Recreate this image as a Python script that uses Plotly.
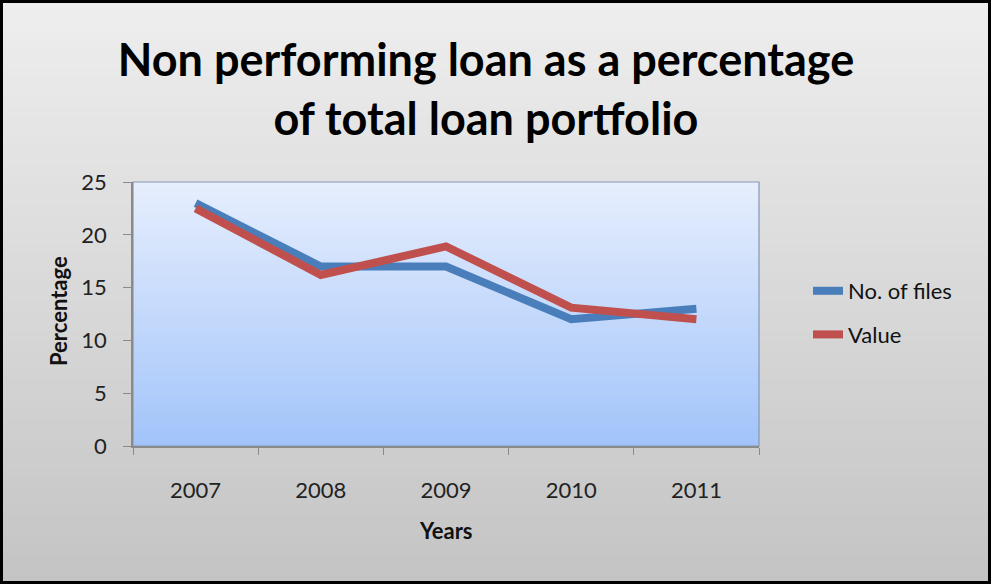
import plotly.graph_objects as go

# Data
years = ["2007", "2008", "2009", "2010", "2011"]
no_of_files = [23, 17, 17, 12, 13]
value = [22.5, 16.2, 18.9, 13.1, 12.0]
series_names = ["No. of files", "Value"]
y_ticks = [0, 5, 10, 15, 20, 25]

W, H = 991, 584
# plot area in pixels
PL, PR, PT, PB = 133, 759, 182, 446

def px_x(x):
    return x / W

def px_y(y):
    return 1 - y / H

def lerp(c1, c2, t):
    return "rgb({},{},{})".format(*[round(a + (b - a) * t) for a, b in zip(c1, c2)])

shapes = []

# chart background: soft gray vertical gradient
n = 60
top_gray, bot_gray = (238, 238, 238), (196, 196, 196)
for i in range(n):
    y0 = H * i / n
    y1 = H * (i + 1) / n + 1
    shapes.append(dict(type="rect", xref="paper", yref="paper",
                       x0=0, x1=1, y0=px_y(min(y1, H)), y1=px_y(y0),
                       fillcolor=lerp(top_gray, bot_gray, i / (n - 1)),
                       line=dict(width=0), layer="below"))

# plot area: white-blue to light blue gradient
top_blue, bot_blue = (230, 238, 253), (162, 196, 250)
for i in range(n):
    y0 = PT + (PB - PT) * i / n
    y1 = PT + (PB - PT) * (i + 1) / n + 0.6
    shapes.append(dict(type="rect", xref="paper", yref="paper",
                       x0=px_x(PL), x1=px_x(PR), y0=px_y(min(y1, PB)), y1=px_y(y0),
                       fillcolor=lerp(top_blue, bot_blue, i / (n - 1)),
                       line=dict(width=0), layer="below"))

# plot area frame
shapes.append(dict(type="rect", xref="paper", yref="paper",
                   x0=px_x(PL), x1=px_x(PR), y0=px_y(PB), y1=px_y(PT),
                   line=dict(color="#8497B8", width=1.2), layer="below"))

# outer black frame
shapes.append(dict(type="rect", xref="paper", yref="paper",
                   x0=px_x(1.5), x1=px_x(W - 1.5), y0=px_y(H - 1.5), y1=px_y(1.5),
                   line=dict(color="black", width=3), layer="above"))

fig = go.Figure()
fig.add_trace(go.Scatter(x=years, y=no_of_files, mode="lines", name=series_names[0],
                         legendgroup="a",
                         line=dict(color="#4A7EBB", width=8)))
fig.add_trace(go.Scatter(x=years, y=value, mode="lines", name=series_names[1],
                         legendgroup="b",
                         line=dict(color="#C0504D", width=8)))

font_family = "Lato, Calibri, sans-serif"

fig.update_layout(
    width=W, height=H,
    margin=dict(l=0, r=0, t=0, b=0, pad=0, autoexpand=False),
    paper_bgcolor="#E0E0E0",
    plot_bgcolor="rgba(0,0,0,0)",
    shapes=shapes,
    font=dict(family=font_family, color="#222222"),
    title=dict(text="Non performing loan as a percentage<br>of total loan portfolio",
               x=px_x(486), xanchor="center", y=px_y(76), yanchor="top",
               font=dict(family=font_family, size=45, color="black", weight="bold")),
    xaxis=dict(domain=[px_x(PL), px_x(PR)], type="category", range=[-0.5, 4.5],
               tickson="boundaries", ticks="outside", ticklen=7, tickcolor="#8A8A8A",
               showline=True, linecolor="#8A8A8A", linewidth=1.5, showgrid=False,
               zeroline=False, ticklabelstandoff=24,
               tickfont=dict(size=22, color="#222222")),
    yaxis=dict(domain=[px_y(PB), px_y(PT)], range=[0, 25], tickvals=y_ticks,
               ticks="outside", ticklen=8, tickcolor="#8A8A8A",
               showline=True, linecolor="#8A8A8A", linewidth=1.5, showgrid=False,
               zeroline=False, ticklabelstandoff=12,
               tickfont=dict(size=22, color="#222222")),
    legend=dict(x=px_x(808), y=px_y(313), xanchor="left", yanchor="middle",
                bgcolor="rgba(0,0,0,0)", tracegroupgap=12,
                font=dict(size=22, color="#111111")),
    annotations=[
        dict(text="<b>Years</b>", xref="paper", yref="paper",
             x=px_x(446), y=px_y(530), xanchor="center", yanchor="middle",
             showarrow=False, font=dict(size=22, color="#111111")),
        dict(text="<b>Percentage</b>", xref="paper", yref="paper",
             x=px_x(58), y=px_y(311), xanchor="center", yanchor="middle",
             showarrow=False, textangle=-90,
             font=dict(size=22, color="#111111")),
    ],
)

fig.write_html("out.html")
